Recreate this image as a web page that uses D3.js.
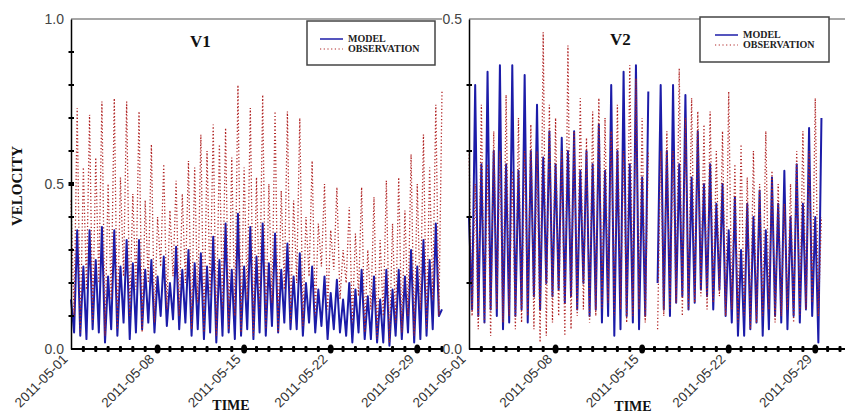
<!DOCTYPE html>
<html><head><meta charset="utf-8">
<script src="https://cdn.jsdelivr.net/npm/d3@7"></script>
<style>
html,body{margin:0;padding:0;background:#fff;}
svg{display:block;}
</style>
</head><body>
<svg id="chart" width="845" height="414"></svg>
<script>
// ---------- DATA (one value every 6 hours starting 2011-05-01 00:00) ----------
const startDate = "2011-05-01";
const stepHours = 6;
const xTickLabels = ["2011-05-01","2011-05-08","2011-05-15","2011-05-22","2011-05-29"];
const yTicksLeft = [0.0, 0.5, 1.0];
const yTicksRight = [0.0, 0.5];
const seriesNames = ["MODEL","OBSERVATION"];
const panelTitles = ["V1","V2"];

// V1 (left panel)
const leftModel = [
 0.15,0.05,0.36,0.04, 0.25,0.03,0.36,0.06, 0.27,0.05,0.37,0.02, 0.22,0.06,0.36,0.04,
 0.25,0.08,0.33,0.03, 0.26,0.05,0.33,0.06, 0.24,0.08,0.27,0.05, 0.22,0.10,0.28,0.07,
 0.20,0.09,0.31,0.06, 0.24,0.08,0.30,0.04, 0.26,0.06,0.29,0.03, 0.25,0.05,0.34,0.02,
 0.27,0.04,0.38,0.05, 0.24,0.03,0.41,0.04, 0.25,0.06,0.37,0.03, 0.28,0.05,0.38,0.04,
 0.26,0.07,0.35,0.05, 0.24,0.08,0.32,0.06, 0.22,0.06,0.29,0.04, 0.20,0.08,0.25,0.05,
 0.18,0.07,0.22,0.03, 0.17,0.06,0.21,0.05, 0.15,0.04,0.20,0.02, 0.18,0.05,0.24,0.03,
 0.16,0.03,0.22,0.02, 0.15,0.02,0.24,0.01, 0.18,0.04,0.24,0.03, 0.22,0.05,0.30,0.02,
 0.25,0.03,0.33,0.04, 0.27,0.06,0.38,0.10, 0.12
];
const leftObs = [
 0.45,0.10,0.73,0.05, 0.55,0.18,0.71,0.08, 0.58,0.20,0.75,0.04, 0.50,0.15,0.76,0.06,
 0.52,0.22,0.75,0.10, 0.47,0.18,0.72,0.05, 0.45,0.20,0.62,0.08, 0.40,0.25,0.56,0.12,
 0.42,0.22,0.51,0.10, 0.47,0.20,0.57,0.06, 0.55,0.14,0.65,0.05, 0.60,0.16,0.68,0.04,
 0.62,0.12,0.67,0.06, 0.58,0.10,0.80,0.05, 0.55,0.15,0.73,0.04, 0.52,0.12,0.77,0.06,
 0.50,0.14,0.72,0.05, 0.48,0.18,0.72,0.08, 0.45,0.20,0.70,0.07, 0.40,0.22,0.57,0.10,
 0.38,0.25,0.50,0.12, 0.36,0.24,0.49,0.15, 0.30,0.20,0.43,0.08, 0.35,0.16,0.49,0.05,
 0.30,0.12,0.46,0.03, 0.33,0.10,0.51,0.02, 0.38,0.08,0.52,0.05, 0.42,0.10,0.59,0.04,
 0.50,0.12,0.65,0.06, 0.55,0.15,0.74,0.10, 0.78
];

// V2 (right panel); null = missing record
const rightModel = [
 0.20,0.06,0.40,0.05, 0.28,0.04,0.42,0.06, 0.30,0.05,0.43,0.03, 0.28,0.04,0.43,0.05,
 0.27,0.06,0.415,0.04, 0.30,0.08,0.37,0.06, 0.29,0.10,0.33,0.08, 0.28,0.09,0.32,0.07,
 0.30,0.08,0.33,0.06, 0.27,0.10,0.30,0.05, 0.28,0.06,0.34,0.04, 0.27,0.05,0.40,0.02,
 0.30,0.03,0.42,0.05, 0.28,0.04,0.43,0.03, 0.26,0.05,0.39,null, null,0.10,0.40,0.06,
 0.30,0.05,0.40,0.07, 0.28,0.08,0.385,0.06, 0.26,0.07,0.33,0.09, 0.25,0.08,0.28,0.06,
 0.22,0.09,0.25,0.05, 0.18,0.04,0.23,0.02, 0.15,0.02,0.22,0.03, 0.20,0.04,0.24,0.02,
 0.18,0.03,0.26,0.05, 0.22,0.04,0.27,0.03, 0.20,0.05,0.28,0.04, 0.22,0.06,0.335,0.05,
 0.20,0.01,0.35,null
];
const rightObs = [
 0.30,0.05,0.25,0.03, 0.37,0.04,0.28,0.02, 0.33,0.06,0.30,0.04, 0.385,0.05,0.27,0.03,
 0.35,0.04,0.30,0.05, 0.34,0.03,0.30,0.01, 0.48,0.02,0.37,0.04, 0.35,0.05,0.30,0.02,
 0.46,0.03,0.33,0.05, 0.38,0.06,0.32,0.04, 0.36,0.05,0.38,0.06, 0.35,0.07,0.33,0.05,
 0.37,0.06,0.30,0.04, 0.43,0.05,0.41,0.06, 0.35,0.04,0.30,null, null,0.03,0.30,0.05,
 0.33,0.06,0.30,0.07, 0.425,0.05,0.35,0.06, 0.38,0.07,0.36,0.08, 0.34,0.06,0.36,0.07,
 0.30,0.08,0.33,0.05, 0.39,0.06,0.28,0.04, 0.31,0.05,0.26,0.03, 0.30,0.04,0.25,0.05,
 0.33,0.06,0.27,0.04, 0.25,0.05,0.22,0.06, 0.25,0.04,0.30,0.05, 0.33,0.06,0.30,0.07,
 0.38,0.05,0.20,null
];

// ---------- DRAWING ----------
const svg = d3.select("#chart");
const t0 = new Date(startDate + "T00:00:00Z");
const tEnd = d3.utcDay.offset(t0, 30);
const modelColor = "#1c1ca8";
const obsColor = "#b02424";
const serif = "'Liberation Serif','Times New Roman',serif";
const sans = "'Liberation Sans',Arial,sans-serif";

function panel(opt) {
  const x = d3.scaleUtc().domain([t0, tEnd]).range([opt.left, opt.right]);
  const y = d3.scaleLinear().domain([0, opt.ymax]).range([349, 19]);
  const g = svg.append("g");
  const timeOf = i => new Date(t0.getTime() + i * stepHours * 3600e3);

  // top border
  g.append("line").attr("x1", opt.left).attr("x2", opt.borderRight)
    .attr("y1", y(opt.ymax)).attr("y2", y(opt.ymax))
    .attr("stroke", "#8a8a8a").attr("stroke-width", 1.5);

  const line = d3.line().defined(d => d != null)
    .x((d, i) => x(timeOf(i))).y(d => y(d));

  g.append("path").datum(opt.model).attr("d", line)
    .attr("fill", "none").attr("stroke", modelColor).attr("stroke-width", 2)
    .attr("stroke-linejoin", "round");
  g.append("path").datum(opt.obs).attr("d", line)
    .attr("fill", "none").attr("stroke", obsColor).attr("stroke-width", 1.3)
    .attr("stroke-dasharray", "1.2,2.2");

  // y axis
  const yAxis = d3.axisLeft(y).tickValues(opt.yTicks).tickFormat(d3.format(".1f"))
    .tickSize(0).tickPadding(7);
  const ya = g.append("g").attr("transform", `translate(${opt.left},0)`).call(yAxis);
  ya.select(".domain").attr("stroke", "#000").attr("stroke-width", 1.5);
  ya.selectAll("text").attr("font-family", sans).attr("font-size", 14).attr("fill", "#444");
  // minor y ticks
  const minor = d3.range(1, Math.round(opt.ymax * 10)).map(k => k / 10);
  g.selectAll(".ym").data(minor).enter().append("line")
    .attr("x1", opt.left - 2.5).attr("x2", opt.left + 3)
    .attr("y1", d => y(d)).attr("y2", d => y(d))
    .attr("stroke", "#000").attr("stroke-width", d => Math.abs(d - 0.5) < 1e-6 ? 4 : 2);

  // x axis
  const labelDates = xTickLabels.map(s => new Date(s + "T00:00:00Z"));
  const xAxis = d3.axisBottom(x).tickValues(labelDates)
    .tickFormat(d3.utcFormat("%Y-%m-%d")).tickSize(0).tickPadding(0);
  const xa = g.append("g").attr("transform", "translate(0,349)").call(xAxis);
  xa.select(".domain").attr("stroke", "#000").attr("stroke-width", 2)
    .attr("d", `M${opt.left},0H${opt.axisRight}`);
  xa.selectAll("text").attr("font-family", sans).attr("font-size", 13.5).attr("fill", "#333")
    .attr("text-anchor", "end").attr("dy", 0)
    .attr("transform", "translate(-3,11) rotate(-45)");
  // daily ticks
  const days = d3.utcDay.range(d3.utcDay.offset(t0, 1), d3.utcDay.offset(t0, 31));
  g.selectAll(".xd").data(days).enter().append("rect")
    .attr("x", d => x(d) - 1.5).attr("y", 346).attr("width", 3).attr("height", 6)
    .attr("rx", 1).attr("fill", "#000");
  g.selectAll(".xw").data(labelDates.slice(1)).enter().append("ellipse")
    .attr("cx", d => x(d)).attr("cy", 349).attr("rx", 3).attr("ry", 4.5).attr("fill", "#000");

  // title
  g.append("text").attr("x", opt.titleX).attr("y", opt.titleY).text(opt.title)
    .attr("font-family", serif).attr("font-weight", "bold").attr("font-size", 17).attr("fill", "#111");

  // legend
  const L = opt.legend;
  const lg = g.append("g").attr("transform", `translate(${L.x},${L.y})`);
  lg.append("rect").attr("width", L.w).attr("height", L.h).attr("fill", "#fff")
    .attr("stroke", "#444").attr("stroke-width", 1.5);
  lg.append("line").attr("x1", L.lx).attr("x2", L.lx + 23).attr("y1", 18).attr("y2", 18)
    .attr("stroke", modelColor).attr("stroke-width", 1.5);
  lg.append("line").attr("x1", L.lx).attr("x2", L.lx + 23).attr("y1", 28).attr("y2", 28)
    .attr("stroke", obsColor).attr("stroke-width", 1.2).attr("stroke-dasharray", "1.2,2.5");
  lg.selectAll("text").data(seriesNames).enter().append("text")
    .attr("x", L.lx + 28).attr("y", (d, i) => 21 + i * 10).text(d => d)
    .attr("font-family", serif).attr("font-weight", "bold").attr("font-size", 10).attr("fill", "#222");

  // axis titles
  g.append("text").attr("x", opt.timeX).attr("y", opt.timeY).attr("text-anchor", "middle")
    .text("TIME").attr("font-family", serif).attr("font-weight", "bold").attr("font-size", 14).attr("fill", "#111");
}

panel({left: 71, right: 442, borderRight: 442, axisRight: 442, ymax: 1.0, yTicks: yTicksLeft,
  model: leftModel, obs: leftObs, title: panelTitles[0], titleX: 190, titleY: 47,
  legend: {x: 307, y: 21, w: 128, h: 44, lx: 13}, timeX: 231, timeY: 410});
panel({left: 469, right: 840, borderRight: 845, axisRight: 845, ymax: 0.5, yTicks: yTicksRight,
  model: rightModel, obs: rightObs, title: panelTitles[1], titleX: 610, titleY: 45,
  legend: {x: 700, y: 17, w: 129, h: 45, lx: 15}, timeX: 633, timeY: 411});

svg.append("text").attr("transform", "translate(22,186) rotate(-90)").attr("text-anchor", "middle")
  .text("VELOCITY").attr("font-family", serif).attr("font-weight", "bold").attr("font-size", 15).attr("fill", "#111");
</script>
</body></html>
